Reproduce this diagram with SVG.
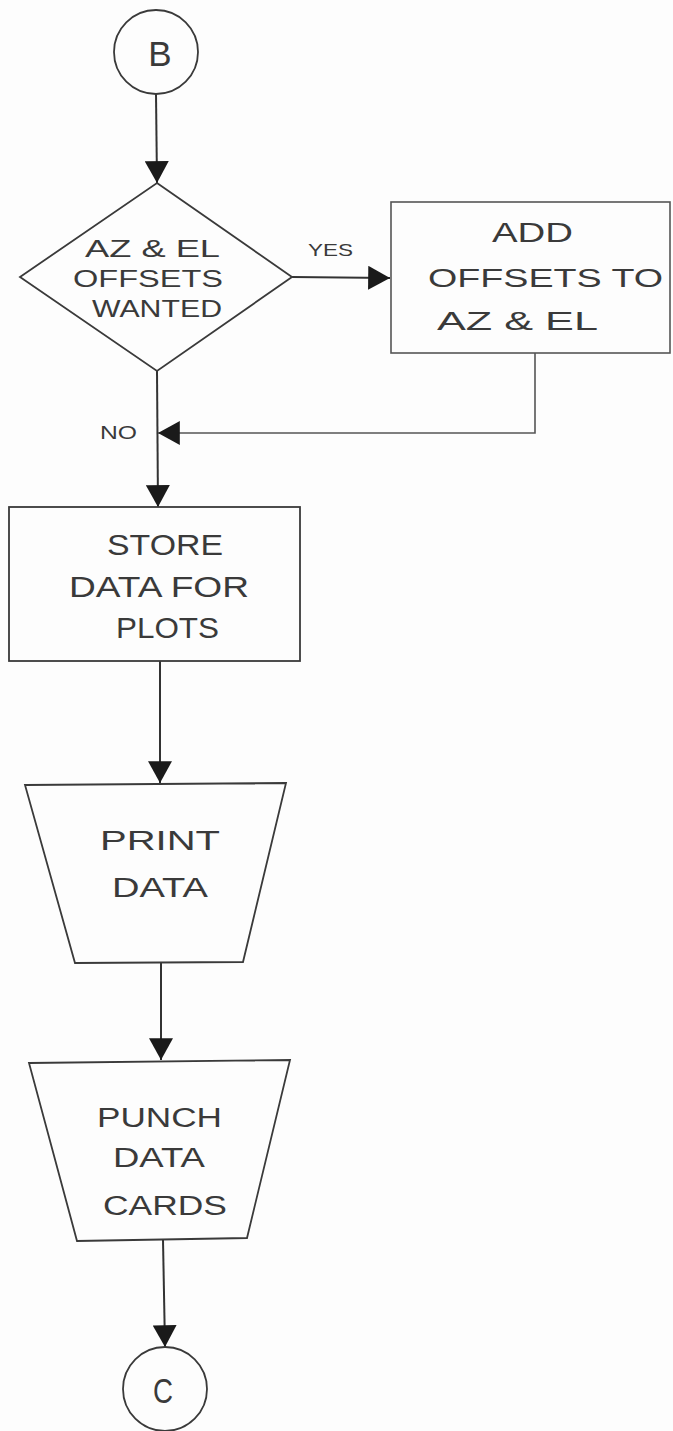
<svg xmlns="http://www.w3.org/2000/svg" width="673" height="1431" viewBox="0 0 673 1431">
  <defs>
    <style>
      .shape { fill: none; stroke: #3a3a3a; stroke-width: 1.8; }
      .faint { fill: none; stroke: #555; stroke-width: 1.6; }
      .conn { fill: none; stroke: #333; stroke-width: 2; }
      .lbl { font-family: "Liberation Sans", Arial, sans-serif; fill: #3a3a3a; }
    </style>
    <marker id="arrow" markerUnits="userSpaceOnUse" markerWidth="24" markerHeight="24" viewBox="0 0 20 22" refX="20" refY="11" orient="auto">
      <path d="M0,0 L20,11 L0,22 Z" fill="#1a1a1a"/>
    </marker>
  </defs>
  <rect x="0" y="0" width="673" height="1431" fill="#fdfdfd"/>

  <g id="connectors">
    <line class="conn" x1="156" y1="94" x2="157" y2="183" marker-end="url(#arrow)"/>
    <line class="conn" x1="292" y1="277" x2="390" y2="278" marker-end="url(#arrow)"/>
    <line class="conn" x1="157" y1="371" x2="158" y2="507" marker-end="url(#arrow)"/>
    <polyline class="faint" points="535,353 535,433 158,433" marker-end="url(#arrow)"/>
    <line class="conn" x1="160" y1="661" x2="160" y2="783" marker-end="url(#arrow)"/>
    <line class="conn" x1="161" y1="963" x2="161" y2="1060" marker-end="url(#arrow)"/>
    <line class="conn" x1="163" y1="1240" x2="165" y2="1347" marker-end="url(#arrow)"/>
  </g>

  <g id="connector-B">
    <circle class="shape" cx="156" cy="52" r="42"/>
    <text class="lbl" x="160" y="66" font-size="35" text-anchor="middle">B</text>
  </g>

  <g id="decision-offsets">
    <polygon class="shape" points="157,183 292,277 157,371 20,277"/>
    <text class="lbl" x="85" y="257" font-size="23" textLength="135" lengthAdjust="spacingAndGlyphs">AZ &amp; EL</text>
    <text class="lbl" x="73" y="287" font-size="23" textLength="150" lengthAdjust="spacingAndGlyphs">OFFSETS</text>
    <text class="lbl" x="92" y="317" font-size="23" textLength="130" lengthAdjust="spacingAndGlyphs">WANTED</text>
  </g>

  <g id="label-yes">
    <text class="lbl" x="308" y="256" font-size="17" textLength="45" lengthAdjust="spacingAndGlyphs">YES</text>
  </g>
  <g id="label-no">
    <text class="lbl" x="100" y="439" font-size="19" textLength="37" lengthAdjust="spacingAndGlyphs">NO</text>
  </g>

  <g id="process-add-offsets">
    <rect class="faint" x="391" y="202" width="279" height="151"/>
    <text class="lbl" x="492" y="242" font-size="27" textLength="81" lengthAdjust="spacingAndGlyphs">ADD</text>
    <text class="lbl" x="428" y="287" font-size="26" textLength="235" lengthAdjust="spacingAndGlyphs">OFFSETS TO</text>
    <text class="lbl" x="437" y="330" font-size="26" textLength="161" lengthAdjust="spacingAndGlyphs">AZ &amp; EL</text>
  </g>

  <g id="process-store">
    <rect class="shape" x="9" y="507" width="291" height="154"/>
    <text class="lbl" x="107" y="555" font-size="29" textLength="116" lengthAdjust="spacingAndGlyphs">STORE</text>
    <text class="lbl" x="69" y="597" font-size="29" textLength="180" lengthAdjust="spacingAndGlyphs">DATA FOR</text>
    <text class="lbl" x="116" y="638" font-size="29" textLength="103" lengthAdjust="spacingAndGlyphs">PLOTS</text>
  </g>

  <g id="output-print">
    <polygon class="shape" points="25,785 286,783 243,962 75,963"/>
    <text class="lbl" x="100" y="850" font-size="27" textLength="120" lengthAdjust="spacingAndGlyphs">PRINT</text>
    <text class="lbl" x="112" y="897" font-size="27" textLength="96" lengthAdjust="spacingAndGlyphs">DATA</text>
  </g>

  <g id="output-punch">
    <polygon class="shape" points="29,1063 290,1060 247,1238 77,1241"/>
    <text class="lbl" x="97" y="1127" font-size="27" textLength="125" lengthAdjust="spacingAndGlyphs">PUNCH</text>
    <text class="lbl" x="113" y="1167" font-size="27" textLength="92" lengthAdjust="spacingAndGlyphs">DATA</text>
    <text class="lbl" x="103" y="1215" font-size="27" textLength="124" lengthAdjust="spacingAndGlyphs">CARDS</text>
  </g>

  <g id="connector-C">
    <circle class="shape" cx="165" cy="1389" r="42"/>
    <text class="lbl" x="153" y="1403" font-size="35" textLength="20" lengthAdjust="spacingAndGlyphs">C</text>
  </g>
</svg>
